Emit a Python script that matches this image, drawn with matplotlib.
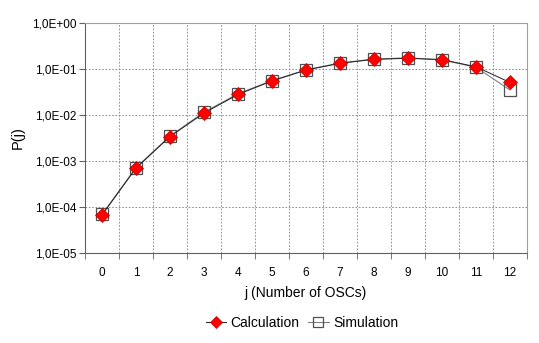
import numpy as np
import matplotlib.pyplot as plt
from matplotlib.ticker import FixedLocator, FuncFormatter

plt.rcParams['font.family'] = ['Liberation Sans', 'DejaVu Sans']

# data
j = list(range(13))
calc = [6.7e-5, 7.0e-4, 3.4e-3, 1.1e-2, 2.8e-2, 5.5e-2, 9.5e-2,
        0.133, 0.162, 0.171, 0.160, 0.112, 0.051]
sim = [6.9e-5, 7.2e-4, 3.5e-3, 1.15e-2, 2.9e-2, 5.6e-2, 9.6e-2,
       0.135, 0.165, 0.175, 0.158, 0.109, 0.035]

fig = plt.figure(figsize=(5.39, 3.43), dpi=100)
ax = fig.add_axes([0.1577, 0.2624, 0.82, 0.6705])

l_sim, = ax.plot(j, sim, color="#808080", linewidth=0.8, marker="s",
                 markersize=9, markerfacecolor="none",
                 markeredgecolor="#505050", markeredgewidth=0.9,
                 label="Simulation", zorder=3)
l_calc, = ax.plot(j, calc, color="#202020", linewidth=0.7, marker="D",
                  markersize=7.5, markerfacecolor="red",
                  markeredgecolor="#c00000", markeredgewidth=0.5,
                  label="Calculation", zorder=4)

ax.set_yscale("log")
ax.set_ylim(1e-5, 1)
ax.set_xlim(-0.5, 12.5)

ax.yaxis.set_major_locator(FixedLocator([1e-5, 1e-4, 1e-3, 1e-2, 1e-1, 1]))
ax.yaxis.set_minor_locator(FixedLocator([]))
ax.yaxis.set_major_formatter(FuncFormatter(lambda v, p: ("%.1E" % v).replace(".", ",")))

ax.xaxis.set_major_locator(FixedLocator(j))
ax.xaxis.set_minor_locator(FixedLocator(np.arange(-0.5, 13, 1)))
ax.tick_params(axis="x", which="major", length=0, pad=10, labelsize=8.5)
ax.tick_params(axis="x", which="minor", length=4, color="#606060")
ax.tick_params(axis="y", which="major", length=4, color="#606060", labelsize=8.5, pad=2)

ax.grid(False)
ax.xaxis.grid(True, which="minor", linestyle=(0, (2, 2)), color="#808080", linewidth=0.6)
ax.yaxis.grid(True, which="major", linestyle=(0, (2, 2)), color="#808080", linewidth=0.6)

for side in ["left", "bottom"]:
    ax.spines[side].set_color("#606060")
for side in ["top", "right"]:
    ax.spines[side].set_color("#a0a0a0")

ax.set_xlabel("j (Number of OSCs)", fontsize=10, labelpad=5)
ax.set_ylabel("P(j)", fontsize=10.5, labelpad=5)

fig.legend(handles=[l_calc, l_sim], loc="center", bbox_to_anchor=(0.56, 0.058),
           ncol=2, frameon=False, fontsize=10, handlelength=1.5, markerscale=0.75,
           handletextpad=0.3, columnspacing=0.6)

fig.savefig("out.png", dpi=100)
